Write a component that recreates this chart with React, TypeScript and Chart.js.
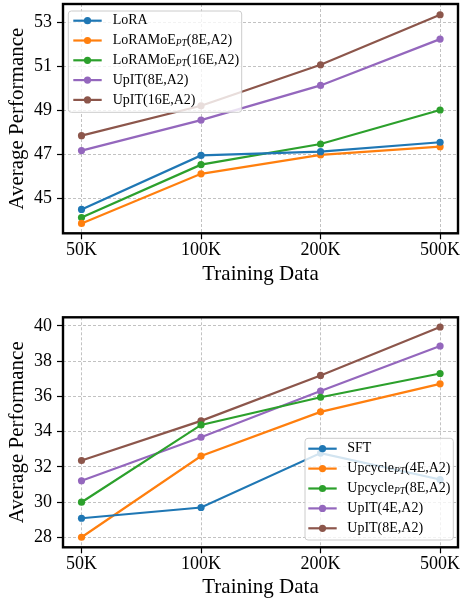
import React, { useEffect, useRef } from "react";
import { Chart, registerables } from "chart.js";

Chart.register(...registerables);

// ---------- data ----------
const xCategories = ["50K", "100K", "200K", "500K"];

const topSeriesLabels = [
  "LoRA",
  "LoRAMoE_{PT}(8E,A2)",
  "LoRAMoE_{PT}(16E,A2)",
  "UpIT(8E,A2)",
  "UpIT(16E,A2)",
];
const topLoRA = [44.49, 46.95, 47.12, 47.55];
const topLoRAMoE8 = [43.85, 46.11, 46.97, 47.35];
const topLoRAMoE16 = [44.12, 46.53, 47.47, 49.02];
const topUpIT8 = [47.17, 48.56, 50.14, 52.25];
const topUpIT16 = [47.85, 49.21, 51.08, 53.36];
const topYTicks = [45, 47, 49, 51, 53];

const bottomSeriesLabels = [
  "SFT",
  "Upcycle_{PT}(4E,A2)",
  "Upcycle_{PT}(8E,A2)",
  "UpIT(4E,A2)",
  "UpIT(8E,A2)",
];
const botSFT = [29.08, 29.69, 32.78, 31.28];
const botUpcycle4 = [28.0, 32.61, 35.12, 36.71];
const botUpcycle8 = [29.99, 34.38, 35.95, 37.3];
const botUpIT4 = [31.21, 33.68, 36.3, 38.86];
const botUpIT8 = [32.36, 34.61, 37.19, 39.94];
const bottomYTicks = [28, 30, 32, 34, 36, 38, 40];

const xTitle = "Training Data";
const yTitle = "Average Performance";

const seriesColors = ["#1f77b4", "#ff7f0e", "#2ca02c", "#9467bd", "#8c564b"];

// ---------- helpers ----------
const FONT = "'Liberation Serif', 'Times New Roman', serif";

function drawRichLabel(ctx: CanvasRenderingContext2D, text: string, x: number, y: number) {
  const parts = text.split(/(_\{[^}]*\})/);
  ctx.textBaseline = "middle";
  ctx.textAlign = "left";
  ctx.fillStyle = "#000";
  let cx = x;
  for (const p of parts) {
    if (!p) continue;
    const m = p.match(/^_\{([^}]*)\}$/);
    if (m) {
      ctx.font = `italic 9.5px ${FONT}`;
      ctx.fillText(m[1], cx, y + 3);
      cx += ctx.measureText(m[1]).width;
    } else {
      ctx.font = `14px ${FONT}`;
      ctx.fillText(p, cx, y);
      cx += ctx.measureText(p).width;
    }
  }
}

const frameLegendPlugin = {
  id: "frameLegend",
  afterDatasetsDraw(chart: any, _args: any, opts: any) {
    const b = opts && opts.box;
    if (!b) return;
    const ctx: CanvasRenderingContext2D = chart.ctx;
    ctx.save();
    ctx.beginPath();
    (ctx as any).roundRect(b.left, b.top, b.width, b.height, 3);
    ctx.fillStyle = "rgba(255,255,255,0.8)";
    ctx.fill();
    ctx.strokeStyle = "#cccccc";
    ctx.lineWidth = 1;
    ctx.stroke();
    chart.data.datasets.forEach((ds: any, i: number) => {
      const cy = b.top + b.firstRow + i * b.rowGap;
      const x0 = b.left + b.sampleOffset;
      const x1 = x0 + b.sampleLen;
      ctx.strokeStyle = ds.borderColor;
      ctx.lineWidth = ds.borderWidth;
      ctx.beginPath();
      ctx.moveTo(x0, cy);
      ctx.lineTo(x1, cy);
      ctx.stroke();
      ctx.fillStyle = ds.borderColor;
      ctx.beginPath();
      ctx.arc((x0 + x1) / 2, cy, ds.pointRadius, 0, Math.PI * 2);
      ctx.fill();
      drawRichLabel(ctx, ds.label, x1 + b.textGap, cy);
    });
    ctx.restore();
  },
  afterDraw(chart: any) {
    const { left, top, right, bottom } = chart.chartArea;
    const ctx: CanvasRenderingContext2D = chart.ctx;
    ctx.save();
    ctx.strokeStyle = "#000";
    ctx.lineWidth = 2.4;
    ctx.strokeRect(left, top, right - left, bottom - top);
    ctx.restore();
  },
};

type Cfg = {
  labels: string[];
  series: number[][];
  yMin: number;
  yMax: number;
  yTicks: number[];
  padTop: number;
  xAxisHeight: number;
  xTitlePadBottom: number;
  box: any;
};

function makeChart(canvas: HTMLCanvasElement, cfg: Cfg) {
  const datasets = cfg.series.map((vals, i) => ({
    label: cfg.labels[i],
    data: vals.map((v, j) => ({ x: j, y: v })),
    borderColor: seriesColors[i],
    backgroundColor: seriesColors[i],
    pointBackgroundColor: seriesColors[i],
    pointBorderWidth: 0,
    pointRadius: 3.6,
    borderWidth: 2.2,
    tension: 0,
    clip: false as any,
  }));
  const gridCommon = {
    color: "rgba(170,170,170,0.8)",
    lineWidth: 0.9,
    drawTicks: true,
    tickLength: 6,
    tickColor: "#000",
    tickWidth: 1.2,
    tickBorderDash: [],
  };
  return new Chart(canvas, {
    type: "line",
    data: { datasets },
    plugins: [frameLegendPlugin as any],
    options: {
      animation: false,
      responsive: false,
      events: [],
      layout: { padding: { top: cfg.padTop, right: 2, left: 0, bottom: 0 } },
      plugins: {
        legend: { display: false },
        tooltip: { enabled: false },
        frameLegend: { box: cfg.box },
      } as any,
      scales: {
        x: {
          type: "linear",
          min: -0.155,
          max: 3.15,
          afterBuildTicks: (s: any) => {
            s.ticks = xCategories.map((_, i) => ({ value: i }));
          },
          afterFit: (s: any) => {
            s.height = cfg.xAxisHeight;
            s.paddingLeft = 0;
            s.paddingRight = 0;
          },
          ticks: {
            callback: (v: any) => xCategories[Math.round(Number(v))] ?? "",
            font: { family: FONT, size: 18 },
            color: "#000",
            padding: 0.5,
            maxRotation: 0,
            autoSkip: false,
          },
          grid: gridCommon as any,
          border: { display: false, dash: [3, 2] },
          title: {
            display: true,
            text: xTitle,
            font: { family: FONT, size: 21, lineHeight: 1 },
            color: "#000",
            padding: { top: 0, bottom: cfg.xTitlePadBottom },
          },
        },
        y: {
          type: "linear",
          min: cfg.yMin,
          max: cfg.yMax,
          afterBuildTicks: (s: any) => {
            s.ticks = cfg.yTicks.map((v) => ({ value: v }));
          },
          afterFit: (s: any) => {
            s.width = 63;
            s.paddingTop = 0;
            s.paddingBottom = 0;
          },
          ticks: {
            callback: (v: any) => String(v),
            font: { family: FONT, size: 18 },
            color: "#000",
            padding: 5,
          },
          grid: gridCommon as any,
          border: { display: false, dash: [3, 2] },
          title: {
            display: true,
            text: yTitle,
            font: { family: FONT, size: 21, lineHeight: 1 },
            color: "#000",
            padding: { top: 7, bottom: 0 },
          },
        },
      },
    } as any,
  });
}

export default function App() {
  const topRef = useRef<HTMLCanvasElement>(null);
  const botRef = useRef<HTMLCanvasElement>(null);

  useEffect(() => {
    const c1 = makeChart(topRef.current!, {
      labels: topSeriesLabels,
      series: [topLoRA, topLoRAMoE8, topLoRAMoE16, topUpIT8, topUpIT16],
      yMin: 43.4,
      yMax: 53.85,
      yTicks: topYTicks,
      padTop: 4,
      xAxisHeight: 66.7,
      xTitlePadBottom: 14.8,
      box: {
        left: 68.3,
        top: 11,
        width: 173.4,
        height: 101.3,
        firstRow: 9.7,
        rowGap: 19.8,
        sampleOffset: 5,
        sampleLen: 28.4,
        textGap: 11,
      },
    });
    const c2 = makeChart(botRef.current!, {
      labels: bottomSeriesLabels,
      series: [botSFT, botUpcycle4, botUpcycle8, botUpIT4, botUpIT8],
      yMin: 27.43,
      yMax: 40.49,
      yTicks: bottomYTicks,
      padTop: 17.3,
      xAxisHeight: 53.7,
      xTitlePadBottom: 3.2,
      box: {
        left: 305,
        top: 138.3,
        width: 148.3,
        height: 101.7,
        firstRow: 10.4,
        rowGap: 19.9,
        sampleOffset: 3.3,
        sampleLen: 28.4,
        textGap: 10.6,
      },
    });
    return () => {
      c1.destroy();
      c2.destroy();
    };
  }, []);

  return (
    <div
      style={{
        position: "fixed",
        left: 0,
        top: 0,
        width: 462,
        height: 601,
        background: "#fff",
      }}
    >
      <canvas
        ref={topRef}
        width={462}
        height={300}
        style={{ position: "absolute", left: 0, top: 0, width: 462, height: 300 }}
      />
      <canvas
        ref={botRef}
        width={462}
        height={301}
        style={{ position: "absolute", left: 0, top: 300, width: 462, height: 301 }}
      />
    </div>
  );
}
